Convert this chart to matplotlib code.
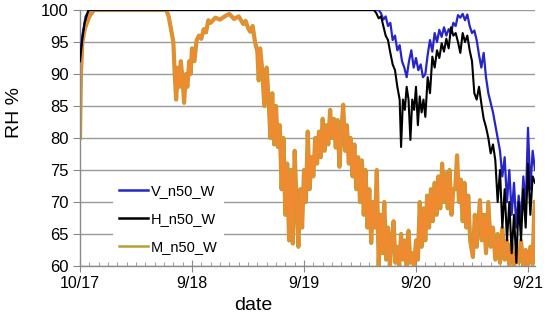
import matplotlib
matplotlib.use("Agg")
import matplotlib.pyplot as plt
from matplotlib.ticker import MultipleLocator
import numpy as np

plt.rcParams['font.family'] = ['Liberation Sans', 'DejaVu Sans']

# time in hours from 10/17 00:00 (axis in days)
tick_labels = ["10/17", "9/18", "9/19", "9/20", "9/21"]
y_ticks = [60, 65, 70, 75, 80, 85, 90, 95, 100]

v_h = [0, 0.5, 1.2, 2, 64, 64.5, 65, 65.5, 66, 66.5, 67, 67.5, 68, 68.5, 69, 69.5, 70, 70.5, 71, 71.5,
       72, 72.5, 73, 73.5, 74, 74.5, 75, 75.5, 76, 76.5, 77, 77.5, 78, 78.5, 79, 79.5, 80, 80.5, 81, 81.5,
       82, 82.5, 83, 83.5, 84, 84.5, 85, 85.5, 86, 86.5, 87, 87.5, 88, 88.5, 89, 89.5, 90, 90.5, 91, 91.5,
       92, 92.5, 93, 93.5, 94, 94.5, 95, 95.5, 96, 96.5, 97, 97.5]
v_val = [93, 96, 99, 100, 100, 99.5, 98.5, 99, 97.5, 98, 95.3, 96, 93.7, 94.5, 92, 91, 89.5, 92, 93.7, 91,
         92.5, 90.6, 91.5, 89.5, 90, 93, 95.3, 93.5, 96.4, 95, 96.9, 95.8, 97.3, 96, 97, 96.4, 98, 97.5, 99.2, 98.8,
         99.4, 98.4, 99.3, 97.5, 96.4, 96.8, 95.3, 93, 91, 93.3, 89.5, 87, 85.5, 84, 82, 80, 78, 74, 77, 70,
         75, 68, 73, 66, 71, 67, 74, 69, 81.6, 72, 78, 75]

h_h = [0, 0.5, 1, 1.8, 63, 63.5, 64, 64.5, 65, 65.5, 66, 66.5, 67, 67.5, 68, 68.5, 68.8, 69.2, 69.6, 70,
       70.4, 70.8, 71.2, 71.6, 72, 72.4, 72.8, 73.2, 73.6, 74, 74.5, 75, 75.5, 76, 76.5, 77, 77.5, 78, 78.5, 79,
       79.5, 80, 80.5, 81, 81.5, 82, 82.5, 83, 83.5, 84, 84.5, 85, 85.5, 86, 86.5, 87, 87.5, 88, 88.5, 89,
       89.5, 90, 90.5, 91, 91.5, 92, 92.5, 93, 93.5, 94, 94.5, 95, 95.5, 96, 96.5, 97, 97.5]
h_val = [92, 95.5, 98, 100, 100, 99.5, 98.7, 99, 97.5, 96, 95.3, 93.3, 91.5, 90.6, 88, 86, 78.6, 86, 84.4, 88,
         86, 79.7, 86, 84.4, 88, 82, 86.5, 84, 86, 83.3, 89.5, 87, 92.7, 91, 93.7, 92.5, 94.8, 93.5, 95.5, 94,
         97.3, 96, 96.4, 95, 93.3, 96.4, 95, 96, 93.7, 92, 87, 86, 88, 85.4, 83, 81.7, 80, 77.6, 79, 76.5,
         70, 75, 66, 72, 64, 70, 62, 68, 60.5, 70, 64, 72, 66, 76, 68, 74, 73]

m_h = [0, 0.2, 0.5, 1, 2, 3, 18.5, 19, 19.5, 20, 20.3, 20.6, 21, 21.3, 21.6, 22, 22.3, 22.7, 23, 23.4,
       23.7, 24, 24.5, 25, 25.5, 26, 26.5, 27, 27.5, 28, 29, 30, 31, 32, 33, 34, 35, 35.5, 36, 36.5,
       37, 37.5, 38, 38.3, 38.6, 39, 39.5, 40, 40.4, 40.8, 41.2, 41.6, 42, 42.4, 42.8, 43.2, 43.6, 44, 44.4, 44.8,
       45.2, 45.6, 46, 46.4, 46.8, 47.2, 47.6, 48, 48.4, 48.8, 49.2, 49.6, 50, 50.4, 50.8, 51.2, 51.6, 52, 52.4, 52.8,
       53.2, 53.6, 54, 54.4, 54.8, 55.2, 55.6, 56, 56.4, 56.8, 57.2, 57.6, 58, 58.4, 58.8, 59.2, 59.6, 60, 60.4, 60.8,
       61.2, 61.6, 62, 62.4, 62.8, 63.2, 63.6, 64, 64.4, 64.8, 65.2, 65.6, 66, 66.4, 66.8, 67.2, 67.6, 68, 68.4, 68.8,
       69.2, 69.6, 70, 70.4, 70.8, 71.2, 71.6, 72, 72.4, 72.8, 73.2, 73.6, 74, 74.4, 74.8, 75.2, 75.6, 76, 76.4, 76.8,
       77.2, 77.6, 78, 78.4, 78.8, 79.2, 79.6, 80, 80.4, 80.8, 81.2, 81.6, 82, 82.4, 82.8, 83.2, 83.6, 84.2, 84.6, 85,
       85.7, 86.1, 86.6, 87, 87.5, 88, 88.5, 89, 89.5, 90, 90.5, 91, 91.5, 92, 92.5, 93, 93.5, 94, 94.5, 95,
       95.5, 96, 96.5, 97, 97.3, 97.5]
m_val = [80, 90, 95, 97, 99, 100, 100, 99, 97, 95, 90, 86, 91, 88, 92, 89, 85.5, 90, 88, 92,
         90, 94, 92, 95.3, 96, 95.5, 97, 96.5, 98.4, 98, 98.8, 98.5, 99, 99.4, 98.6, 99, 97.8, 98.3, 97.2, 96.6,
         97.5, 95, 93.5, 89, 94, 91, 85, 91, 86, 80, 87, 79, 85, 78.6, 82, 72, 80, 68, 76, 64,
         75, 63.5, 78, 70, 63, 72, 66, 75, 70, 81, 72, 77, 74, 80, 76, 81, 77, 83, 78, 82,
         79, 84.4, 80, 83, 78.5, 82.8, 75.5, 81, 85.2, 78, 82, 76, 80, 74, 79, 72, 77, 70, 76.5, 68,
         75, 66, 72, 63.6, 70, 66, 75, 60, 68, 62, 70, 61, 66, 60, 64, 67, 60.5, 63, 60, 65,
         61, 64, 60, 65.5, 60.5, 62, 60, 64, 61, 70, 63, 69, 64, 71, 66, 72, 67, 73, 68, 74,
         69, 76, 70, 74.5, 69, 75, 68, 72, 72, 77.3, 70, 73.5, 67, 73, 66, 71, 64, 61.4, 68, 63,
         70.3, 64, 68, 62, 70, 63, 66, 61, 65, 60.5, 66, 61, 64, 60, 63.5, 60, 62, 60.5, 64, 60,
         62.5, 60, 63, 60.3, 68, 70]

fig = plt.figure(figsize=(5.5, 3.19), dpi=100)
ax = fig.add_axes([80 / 550, 1 - 266 / 319, 455 / 550, 256 / 319])

d = lambda h: np.asarray(h) / 24.0

ax.plot(d(v_h), v_val, color='#2626c8', lw=1.6, label='V_n50_W', zorder=3)
ax.plot(d(h_h), h_val, color='#000000', lw=1.5, label='H_n50_W', zorder=4)
ax.plot(d(m_h), m_val, color='#b8a035', lw=3.0, label='M_n50_W', zorder=2)
ax.plot(d(m_h), m_val, color='#f08a30', lw=1.9, zorder=2.5)

ax.set_xlim(0, 97.5 / 24)
ax.set_ylim(60, 100)
ax.set_yticks(y_ticks)
ax.set_xticks(range(len(tick_labels)))
ax.set_xticklabels(tick_labels)
ax.xaxis.set_minor_locator(MultipleLocator(1 / 12))

ax.yaxis.grid(True, color='#9a9a9a', lw=1.0, zorder=1)
ax.set_axisbelow(True)
for s in ['top', 'right']:
    ax.spines[s].set_visible(False)
for s in ['left', 'bottom']:
    ax.spines[s].set_color('#8a8a8a')
    ax.spines[s].set_linewidth(1.0)
ax.tick_params(axis='y', direction='out', length=5, color='#8a8a8a', labelsize=12, pad=3)
ax.tick_params(axis='x', which='major', direction='inout', length=8, color='#8a8a8a', labelsize=11.5, pad=3)
ax.tick_params(axis='x', which='minor', direction='in', length=3, color='#8a8a8a')

ax.set_ylabel('RH %', fontsize=14)
ax.yaxis.set_label_coords(-0.125, 0.60)
ax.set_xlabel('date', fontsize=14)
ax.xaxis.set_label_coords(0.38, -0.12)

leg = ax.legend(loc='upper left', bbox_to_anchor=(0.057, 0.37), fontsize=10.5, frameon=True,
                facecolor='white', edgecolor='none', framealpha=1, fancybox=False,
                handlelength=2.0, labelspacing=0.95, borderpad=0.4, handletextpad=0.2)
for line in leg.get_lines():
    line.set_linewidth(1.8)
leg.set_zorder(10)

fig.savefig('out.png', dpi=100)
